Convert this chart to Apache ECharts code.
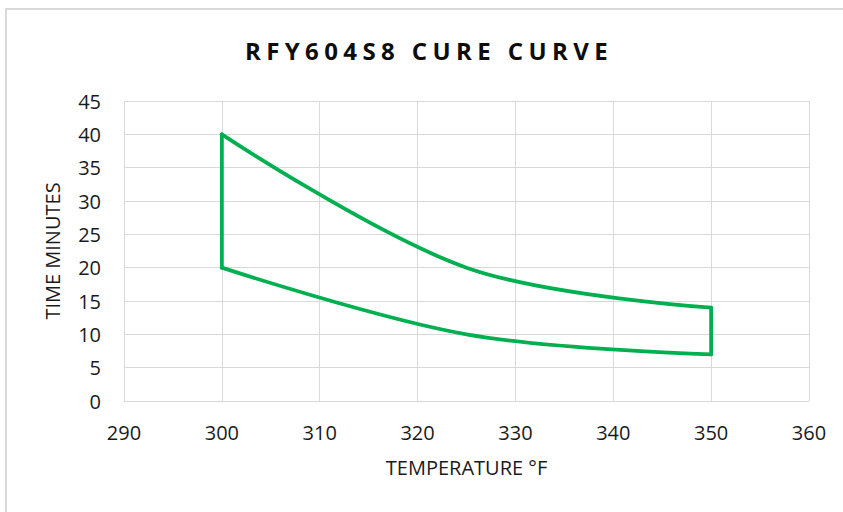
<!DOCTYPE html>
<html>
<head>
<meta charset="utf-8">
<script src="https://cdn.jsdelivr.net/npm/echarts@6/dist/echarts.min.js"></script>
<style>
html,body{margin:0;padding:0;background:#fff;}
#chart{width:843px;height:512px;}
</style>
</head>
<body>
<div id="chart"></div>
<script>
var titleText = 'RFY604S8 CURE CURVE';
var xAxisName = 'TEMPERATURE °F';
var yAxisName = 'TIME MINUTES';
var xTicks = [290, 300, 310, 320, 330, 340, 350, 360];
var yTicks = [0, 5, 10, 15, 20, 25, 30, 35, 40, 45];
var upperTemp = [300, 325, 350];
var upperTime = [40, 20, 14];
var lowerTemp = [300, 325, 350];
var lowerTime = [20, 10, 7];

function pairs(xs, ys) { return xs.map(function (x, i) { return [x, ys[i]]; }); }
var upperData = pairs(upperTemp, upperTime);
var lowerData = pairs(lowerTemp, lowerTime);
var leftEdge = [[upperTemp[0], lowerTime[0]], [upperTemp[0], upperTime[0]]];
var rightEdge = [[upperTemp[2], lowerTime[2]], [upperTemp[2], upperTime[2]]];

var green = '#00b050';
var grid = '#d9d9d9';
var font = 'Open Sans';
var lineStyle = { color: green, width: 3.8, cap: 'round', join: 'round' };

var chart = echarts.init(document.getElementById('chart'), null, { renderer: 'svg' });
chart.setOption({
  animation: false,
  backgroundColor: '#fff',
  graphic: [{
    type: 'rect', silent: true, z: -10,
    shape: { x: 6, y: 9, width: 900, height: 600 },
    style: { fill: '#fff', stroke: grid, lineWidth: 2 }
  }],
  title: {
    text: titleText,
    left: 429, top: 38, textAlign: 'center', padding: 0,
    textStyle: { fontFamily: font, fontSize: 24, fontWeight: 'bold', color: '#0d0d0d' }
  },
  grid: { left: 124, right: 34, top: 101, bottom: 111, containLabel: false },
  xAxis: {
    type: 'value', min: xTicks[0], max: xTicks[xTicks.length - 1], interval: 10,
    name: xAxisName, nameLocation: 'middle', nameGap: 56,
    nameTextStyle: { fontFamily: font, fontSize: 20, color: '#1a1a1a' },
    axisLine: { show: true, lineStyle: { color: grid, width: 1 } },
    axisTick: { show: false },
    axisLabel: { margin: 21, fontFamily: font, fontSize: 20, color: '#1a1a1a' },
    splitLine: { show: true, lineStyle: { color: grid, width: 1 } }
  },
  yAxis: {
    type: 'value', min: yTicks[0], max: yTicks[yTicks.length - 1], interval: 5,
    name: yAxisName, nameLocation: 'middle', nameGap: 62, nameRotate: 90,
    nameTextStyle: { fontFamily: font, fontSize: 20, color: '#1a1a1a' },
    axisLine: { show: false },
    axisTick: { show: false },
    axisLabel: { margin: 23, fontFamily: font, fontSize: 20, color: '#1a1a1a' },
    splitLine: { show: true, lineStyle: { color: grid, width: 1 } }
  },
  series: [
    { type: 'line', data: upperData, smooth: 0.35, showSymbol: false, lineStyle: lineStyle },
    { type: 'line', data: lowerData, smooth: 0.35, showSymbol: false, lineStyle: lineStyle },
    { type: 'line', data: leftEdge, showSymbol: false, lineStyle: lineStyle },
    { type: 'line', data: rightEdge, showSymbol: false, lineStyle: lineStyle }
  ]
});

function spaceTitle() {
  var texts = document.querySelectorAll('#chart text');
  texts.forEach(function (t) {
    if (t.textContent === titleText) {
      t.setAttribute('letter-spacing', '5.4px');
      t.style.letterSpacing = '5.4px';
    }
  });
}
spaceTitle();
chart.on('finished', spaceTitle);
</script>
</body>
</html>
